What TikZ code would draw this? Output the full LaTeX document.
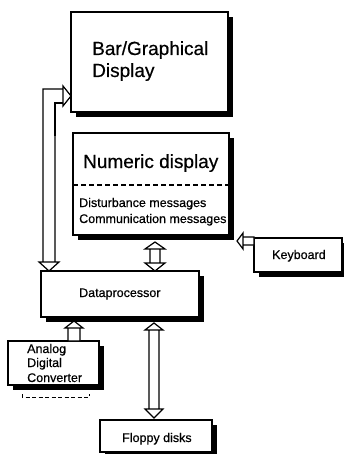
\documentclass[tikz,border=0pt]{standalone}
\usepackage{fontspec}
\setmainfont[FakeBold=0.5]{Liberation Sans}
\usetikzlibrary{calc,shadows}
\begin{document}
\begin{tikzpicture}[x=1pt,y=-1pt,
  box/.style={draw, fill=white, line width=1.3pt, inner sep=0pt, outer sep=0pt,
    anchor=north west, general shadow={fill=black, shadow xshift=5pt, shadow yshift=-5pt}},
  big/.style={font=\fontsize{19}{22}\selectfont, inner sep=0pt, anchor=base west},
  small/.style={font=\fontsize{12.5}{15}\selectfont, inner sep=0pt, anchor=base west},
  harrow/.style={draw, fill=white, line width=1.2pt, line join=miter},
  sepline/.style={line width=1.3pt, dash pattern=on 5pt off 3pt}]
\fill[white] (0,0) rectangle (344,454);
\useasboundingbox (0,0) rectangle (344,454);

% boxes
\node[box, minimum width=157pt, minimum height=100pt] (bar) at (71,12) {};
\node[box, minimum width=156pt, minimum height=102pt] (num) at (73,133) {};
\node[box, minimum width=88pt, minimum height=34pt] (kb) at (254,238) {};
\node[box, minimum width=158pt, minimum height=46pt] (dp) at (41,271) {};
\node[box, minimum width=91pt, minimum height=44pt] (adc) at (8,341) {};
\node[box, minimum width=112pt, minimum height=32pt] (fl) at (100,420) {};

% texts
\node[big] (tbar1) at (92,55) {Bar/Graphical};
\node[big] (tbar2) at (92,77) {Display};
\node[big] (tnum) at (83,168) {Numeric display};
\node[small] (tdist) at (79,207) {Disturbance messages};
\node[small] (tcomm) at (79,223) {Communication messages};
\node[small] (tkb) at (272,259) {Keyboard};
\node[small] (tdp) at (79,297) {Dataprocessor};
\node[small] (tadc1) at (27,353) {Analog};
\node[small] (tadc2) at (27,367) {Digital};
\node[small] (tadc3) at (27,382) {Converter};
\node[small] (tfl) at (122,442) {Floppy disks};

% dashed separators
\draw[sepline] ($(num.north west)+(0,52)$) -- ($(num.north east)+(0,52)$);
\draw[line width=1pt, dash pattern=on 4pt off 2.5pt]
  ($(adc.south west)+(14,9)$) -- ++(0,3) -- ++(67,0) -- ++(0,-3);

% arrow tips
\coordinate (Ltip) at ($(bar.north west)+(0,84)$);
\coordinate (Dtip) at ($(dp.north west)+(8,0)$);
\coordinate (ndT) at ($(num.south west)+(82,7)$);
\coordinate (ndB) at (ndT |- dp.north);
\coordinate (kbT) at ($(num.north east)+(8,108)$);
\coordinate (kbS) at (kbT -| kb.west);
\coordinate (adT) at ($(dp.south west)+(33,4)$);
\coordinate (adS) at (adT |- adc.north);
\coordinate (dfT) at ($(dp.south west)+(113,6)$);
\coordinate (dfB) at ($(dfT |- fl.north)+(0,-2)$);

% L-shaped double arrow: Bar display <-> Dataprocessor
\draw[harrow] let \p1=(Ltip), \p2=(Dtip) in
  (\x1,\y1) -- (\x1-8pt,\y1+10pt) -- (\x1-8pt,\y1+7pt) -- (\x2-6pt,\y1+7pt)
  -- (\x2-6pt,\y2+9pt) -- (\x2-10pt,\y2+9pt) -- (\x2,\y2) -- (\x2+10pt,\y2+9pt)
  -- (\x2+6pt,\y2+9pt) -- (\x2+6pt,\y1-7pt) -- (\x1-8pt,\y1-7pt) -- (\x1-8pt,\y1-10pt) -- cycle
  (\x1-8pt,\y1+7pt) -- (\x1-8pt,\y1-7pt)
  (\x2-6pt,\y2+9pt) -- (\x2+6pt,\y2+9pt);
\draw[line width=2.4pt] let \p1=(Ltip), \p2=(Dtip) in
  (\x2+6pt,\y1-40pt) -- (\x2+6pt,\y1-7pt) -- (\x1-8pt,\y1-7pt);

% Numeric display <-> Dataprocessor
\draw[harrow] let \p1=(ndT), \p2=(ndB) in
  (\x1,\y1) -- (\x1+10pt,\y1-7pt) -- (\x1+5pt,\y1-7pt) -- (\x1+5pt,\y2+8pt)
  -- (\x1+10pt,\y2+8pt) -- (\x1,\y2) -- (\x1-10pt,\y2+8pt) -- (\x1-5pt,\y2+8pt)
  -- (\x1-5pt,\y1-7pt) -- (\x1-10pt,\y1-7pt) -- cycle
  (\x1-5pt,\y1-7pt) -- (\x1+5pt,\y1-7pt)
  (\x1-5pt,\y2+8pt) -- (\x1+5pt,\y2+8pt);

% Keyboard -> Numeric display
\draw[harrow] let \p1=(kbT), \p2=(kbS) in
  (\x1,\y1) -- (\x1+6pt,\y1+8pt) -- (\x1+6pt,\y1+4pt) -- (\x2,\y1+4pt)
  -- (\x2,\y1-4pt) -- (\x1+6pt,\y1-4pt) -- (\x1+6pt,\y1-8pt) -- cycle
  (\x1+6pt,\y1+4pt) -- (\x1+6pt,\y1-4pt);

% ADC -> Dataprocessor
\draw[harrow] let \p1=(adT), \p2=(adS) in
  (\x1,\y1) -- (\x1+9pt,\y1-7pt) -- (\x1+6pt,\y1-7pt) -- (\x1+6pt,\y2)
  -- (\x1-6pt,\y2) -- (\x1-6pt,\y1-7pt) -- (\x1-9pt,\y1-7pt) -- cycle
  (\x1-6pt,\y1-7pt) -- (\x1+6pt,\y1-7pt);

% Dataprocessor <-> Floppy disks
\draw[harrow] let \p1=(dfT), \p2=(dfB) in
  (\x1,\y1) -- (\x1+9pt,\y1-7pt) -- (\x1+5pt,\y1-7pt) -- (\x1+5pt,\y2+9pt)
  -- (\x1+9pt,\y2+9pt) -- (\x1,\y2) -- (\x1-9pt,\y2+9pt) -- (\x1-5pt,\y2+9pt)
  -- (\x1-5pt,\y1-7pt) -- (\x1-9pt,\y1-7pt) -- cycle
  (\x1-5pt,\y1-7pt) -- (\x1+5pt,\y1-7pt)
  (\x1-5pt,\y2+9pt) -- (\x1+5pt,\y2+9pt);
\end{tikzpicture}
\end{document}
